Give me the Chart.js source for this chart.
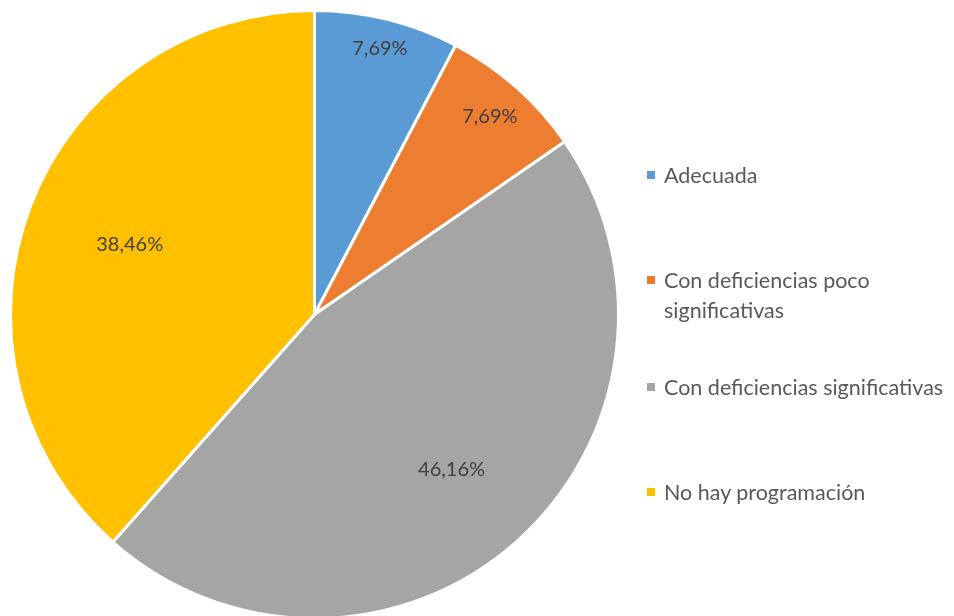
<!DOCTYPE html>
<html lang="es">
  <head>
    <meta charset="utf-8" />
    <title>Programación</title>
    <style>
      html, body {
        margin: 0;
        padding: 0;
        background: #ffffff;
        overflow: hidden;
      }
      .chartBox {
        position: relative;
        width: 954px;
        height: 616px;
        overflow: hidden;
      }
      #legend {
        position: absolute;
        left: 647px;
        top: 0;
        font-family: Lato, "Liberation Sans", sans-serif;
        font-size: 21.5px;
        color: #595959;
      }
      #legend .item {
        position: absolute;
        left: 0;
        white-space: nowrap;
        line-height: 30px;
      }
      #legend .box {
        position: absolute;
        left: 0;
        top: 11px;
        width: 8px;
        height: 8px;
      }
      #legend .text {
        margin-left: 17px;
      }
    </style>
  </head>
  <body>
    <div class="chartBox">
      <canvas id="myChart" width="954" height="620"></canvas>
      <div id="legend"></div>
    </div>

    <script src="https://cdn.jsdelivr.net/npm/chart.js/dist/chart.umd.min.js"></script>
    <script>
      // datos
      const categorias = [
        ["Adecuada"],
        ["Con deficiencias poco", "significativas"],
        ["Con deficiencias significativas"],
        ["No hay programación"],
      ];
      const porcentajes = [7.69, 7.69, 46.16, 38.46];
      const colores = ["#5B9BD5", "#ED7D31", "#A5A5A5", "#FFC000"];

      // distancia de cada etiqueta al centro (fracción del radio)
      const posEtiqueta = [0.9, 0.87, 0.68, 0.65];
      // posición vertical de cada entrada de la leyenda
      const legendTop = [160, 265, 372, 477];

      const fmt = (v) => v.toFixed(2).replace(".", ",") + "%";

      const etiquetas = {
        id: "etiquetas",
        afterDatasetsDraw(chart) {
          const ctx = chart.ctx;
          const meta = chart.getDatasetMeta(0);
          ctx.save();
          ctx.font = "20px Lato, 'Liberation Sans', sans-serif";
          ctx.fillStyle = "#404040";
          ctx.textAlign = "center";
          ctx.textBaseline = "middle";
          meta.data.forEach((arc, i) => {
            const p = arc.getProps(["x", "y", "startAngle", "endAngle", "outerRadius"], true);
            const a = (p.startAngle + p.endAngle) / 2;
            const r = p.outerRadius * posEtiqueta[i];
            ctx.fillText(fmt(porcentajes[i]), p.x + Math.cos(a) * r, p.y + Math.sin(a) * r);
          });
          ctx.restore();
        },
      };

      const config = {
        type: "pie",
        data: {
          labels: categorias.map((c) => c.join(" ")),
          datasets: [
            {
              data: porcentajes,
              backgroundColor: colores,
              borderColor: "#ffffff",
              borderWidth: 3,
            },
          ],
        },
        options: {
          responsive: false,
          animation: false,
          layout: {
            padding: { left: 9, top: 9, right: 334, bottom: 0 },
          },
          plugins: {
            legend: { display: false },
            tooltip: { enabled: false },
          },
        },
        plugins: [etiquetas],
      };

      const myChart = new Chart(document.getElementById("myChart"), config);

      // leyenda
      const legend = document.getElementById("legend");
      categorias.forEach((c, i) => {
        const item = document.createElement("div");
        item.className = "item";
        item.style.top = legendTop[i] + "px";
        const box = document.createElement("span");
        box.className = "box";
        box.style.background = colores[i];
        const text = document.createElement("div");
        text.className = "text";
        text.innerHTML = c.join("<br>");
        item.appendChild(box);
        item.appendChild(text);
        legend.appendChild(item);
      });
    </script>
  </body>
</html>
